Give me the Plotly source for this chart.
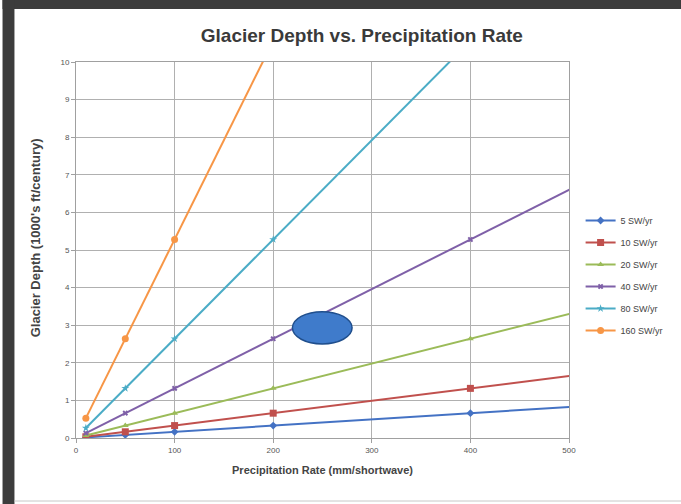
import plotly.graph_objects as go

precip = [10, 50, 100, 200, 400, 1000]
series_names = ["5 SW/yr", "10 SW/yr", "20 SW/yr", "40 SW/yr", "80 SW/yr", "160 SW/yr"]
depth_5 = [0.0165, 0.0825, 0.165, 0.33, 0.66, 1.65]
depth_10 = [0.033, 0.165, 0.33, 0.66, 1.32, 3.3]
depth_20 = [0.066, 0.33, 0.66, 1.32, 2.64, 6.6]
depth_40 = [0.132, 0.66, 1.32, 2.64, 5.28, 13.2]
depth_80 = [0.264, 1.32, 2.64, 5.28, 10.56, 26.4]
depth_160 = [0.528, 2.64, 5.28, 10.56, 21.12, 52.8]
series_values = [depth_5, depth_10, depth_20, depth_40, depth_80, depth_160]
x_ticks = [0, 100, 200, 300, 400, 500]
y_ticks = list(range(0, 11))

colors = ["#4472C4", "#C0504D", "#9BBB59", "#7F60A8", "#4BACC6", "#F79646"]
symbols = ["diamond", "square", "triangle-up", "x", "star", "circle"]
sizes = [6, 7, 6, 5, 6, 7]

SX = 700 / 681  # horizontal compensation observed in the renderer
W, H = 681, 504
L = round(74 * SX)
R = W - round(570 * SX)
T, B = 62, 66
pw, ph = W - L - R, H - T - B

def px(xs):
    return (xs * SX - L) / pw

def py(yp):
    return (H - B - yp) / ph

fig = go.Figure()
for i, (name, vals) in enumerate(zip(series_names, series_values)):
    fig.add_trace(go.Scatter(
        x=precip, y=vals, name=name, mode="lines+markers",
        line=dict(color=colors[i], width=2),
        marker=dict(color=colors[i], size=sizes[i], symbol=symbols[i]),
        legendgroup=str(i), cliponaxis=True,
    ))

shapes = [
    dict(type="rect", xref="paper", yref="paper", x0=px(0), x1=px(720), y0=py(9), y1=py(0),
         fillcolor="#3c3c3c", line=dict(width=0), layer="below"),
    dict(type="rect", xref="paper", yref="paper", x0=px(0), x1=px(12), y0=py(H), y1=py(0),
         fillcolor="#3c3c3c", line=dict(width=0), layer="below"),
    dict(type="line", xref="paper", yref="paper", x0=px(12), x1=px(720), y0=py(501), y1=py(501),
         line=dict(color="#c8c8c8", width=1)),
    dict(type="circle", xref="x", yref="y", x0=219.5, x1=280, y0=2.5, y1=3.36,
         fillcolor="#3F7BCB", line=dict(color="#1F4E8C", width=1.5)),
]

annotations = [
    dict(text="<b>Glacier Depth (1000's ft/century)</b>", xref="paper", yref="paper",
         x=px(33), y=py(238), xanchor="center", yanchor="middle", textangle=-90,
         showarrow=False, font=dict(size=13, color="#444444")),
]

fig.update_layout(
    width=W, height=H,
    margin=dict(l=L, r=R, t=T, b=B),
    paper_bgcolor="white", plot_bgcolor="white",
    font=dict(family="Liberation Sans", color="#333333"),
    title=dict(text="<b>Glacier Depth vs. Precipitation Rate</b>", x=352 * SX / W, xanchor="center",
               y=1 - 35 / H, yanchor="middle", font=dict(size=19, color="#3a3a3a")),
    showlegend=True,
    legend=dict(x=(598 - L) / pw, y=py(206), xanchor="left", yanchor="top",
                font=dict(size=9, color="#444444"), tracegroupgap=3,
                bgcolor="rgba(0,0,0,0)"),
    shapes=shapes,
    annotations=annotations,
)
fig.update_xaxes(range=[0, 500], tickvals=x_ticks, showgrid=True, gridcolor="#b0b0b0",
                 gridwidth=1, showline=True, linecolor="#a0a0a0", mirror=True,
                 ticks="outside", ticklen=4, tickcolor="#a0a0a0", zeroline=False,
                 tickfont=dict(size=8, color="#555555"),
                 title=dict(text="<b>Precipitation Rate (mm/shortwave)</b>",
                            font=dict(size=11, color="#444444"), standoff=12))
fig.update_yaxes(range=[0, 10], tickvals=y_ticks, showgrid=True, gridcolor="#b0b0b0",
                 gridwidth=1, showline=True, linecolor="#a0a0a0", mirror=True,
                 ticks="outside", ticklen=4, tickcolor="#a0a0a0", zeroline=False,
                 tickfont=dict(size=8, color="#555555"))

fig.write_html(
    "out.html",
    config={"displayModeBar": False},
    post_script="document.body.style.margin='0';",
)
